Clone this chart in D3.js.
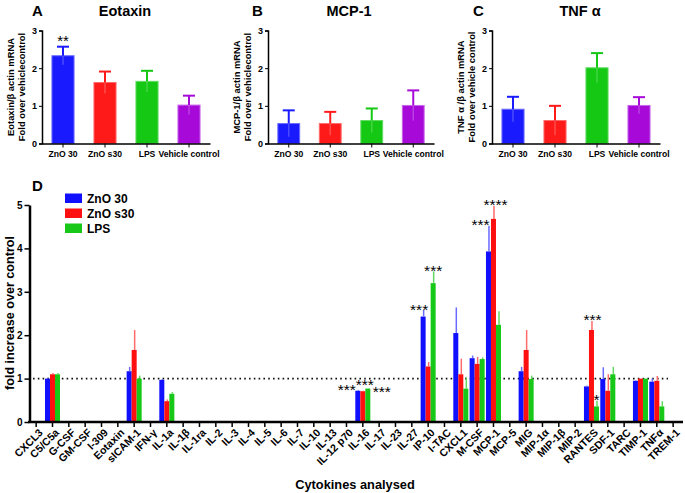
<!DOCTYPE html>
<html><head><meta charset="utf-8">
<script src="https://cdn.jsdelivr.net/npm/d3@7"></script>
<style>
body{margin:0;background:#fff}
svg{display:block;font-family:"Liberation Sans",Arial,sans-serif;font-weight:bold}
</style></head><body>
<svg id="c" width="685" height="493"></svg>
<script>
// ---------- Panels A–C data ----------
const groups = ["ZnO 30", "ZnO s30", "LPS", "Vehicle control"];
const eotaxinMean = [2.33, 1.62, 1.65, 1.02];
const eotaxinErr  = [0.24, 0.29, 0.28, 0.25];
const mcp1Mean    = [0.53, 0.53, 0.61, 1.01];
const mcp1Err     = [0.35, 0.31, 0.32, 0.40];
const tnfMean     = [0.91, 0.61, 2.01, 1.01];
const tnfErr      = [0.33, 0.39, 0.39, 0.22];
const smallTicks  = [0, 1, 2, 3];

// ---------- Panel D data ----------
const cytokines = ["CXCL3","C5/C5a","G-CSF","GM-CSF","I-309","Eotaxin","sICAM-1","IFN-γ","IL-1a","IL-1β",
  "IL-1ra","IL-2","IL-3","IL-4","IL-5","IL-6","IL-7","IL-10","IL-13","IL-12 p70",
  "IL-16","IL-17","IL-23","IL-27","IP-10","I-TAC","CXCL1","M-CSF","MCP-1","MCP-5",
  "MIG","MIP-1α","MIP-1β","MIP-2","RANTES","SDF-1","TARC","TIMP-1","TNFα","TREM-1"];
const series = ["ZnO 30", "ZnO s30", "LPS"];
const N = null;
const zno30Values = [N,1.00,N,N,N,N,1.17,N,0.97,N, N,N,N,N,N,N,N,N,N,N, 0.72,N,N,N,2.43,N,2.05,1.47,3.93,N, 1.17,N,N,N,0.82,0.99,N,0.95,0.93,N];
const zno30Upper  = [N,1.02,N,N,N,N,1.27,N,0.99,N, N,N,N,N,N,N,N,N,N,N, 0.74,N,N,N,2.58,N,2.64,1.53,4.52,N, 1.27,N,N,N,0.84,1.26,N,0.96,1.00,N];
const znoS30Values= [N,1.10,N,N,N,N,1.66,N,0.48,N, N,N,N,N,N,N,N,N,N,N, 0.71,N,N,N,1.28,N,1.10,1.34,4.68,N, 1.66,N,N,N,2.12,0.72,N,1.00,0.95,N];
const znoS30Upper = [N,1.13,N,N,N,N,2.12,N,0.52,N, N,N,N,N,N,N,N,N,N,N, 0.72,N,N,N,1.38,N,1.46,1.50,4.98,N, 2.12,N,N,N,2.33,1.10,N,1.00,1.06,N];
const lpsValues   = [N,1.10,N,N,N,N,1.00,N,0.65,N, N,N,N,N,N,N,N,N,N,N, 0.77,N,N,N,3.20,N,0.77,1.45,2.24,N, 0.99,N,N,N,0.36,1.10,N,1.00,0.36,N];
const lpsUpper    = [N,1.13,N,N,N,N,1.07,N,0.69,N, N,N,N,N,N,N,N,N,N,N, 0.78,N,N,N,3.47,N,1.03,1.49,2.55,N, 1.07,N,N,N,0.49,1.27,N,1.00,0.48,N];
const dTicks = [0, 1, 2, 3, 4, 5];
// significance marks: [category, series index, text]
const sigMarks = [
  ["IL-16",0,"***"],["IL-16",1,"***"],["IL-16",2,"***"],
  ["IP-10",0,"***"],["IP-10",2,"***"],
  ["MCP-1",0,"***"],["MCP-1",1,"****"],
  ["RANTES",1,"***"],["RANTES",2,"*"]
];
const sigNudge  = [-11, 2, 14, -4, 0, -8, 2, 1, 0];
const sigNudgeY = [1, -5, 4, 0, 0, 0, 0, 0, 0];

const svg = d3.select("#c");
svg.append("rect").attr("width",685).attr("height",493).attr("fill","#fff");

// ---------- small panels ----------
const smallColors = ["#1a1aff", "#ff1a1a", "#14c814", "#a70ad8"];
const smallLight  = ["#6b6bff", "#ff6b6b", "#62dc62", "#c866ec"];
const panels = [
  {letter:"A", title:"Eotaxin", mean:eotaxinMean, err:eotaxinErr, x0:42, x1:210, lx:32, tx:125,
   ylab:["Eotaxin/β actin mRNA","Fold over vehiclecontrol"], stars:["**",N,N,N]},
  {letter:"B", title:"MCP-1", mean:mcp1Mean, err:mcp1Err, x0:268, x1:434, lx:252, tx:349,
   ylab:["MCP-1/β actin mRNA","Fold over vehiclecontrol"], stars:[N,N,N,N]},
  {letter:"C", title:"TNF α", mean:tnfMean, err:tnfErr, x0:492, x1:660, lx:473, tx:580,
   ylab:["TNF α /β actin mRNA","Fold over vehicle control"], stars:[N,N,N,N]}
];
panels.forEach(p => {
  const g = svg.append("g");
  const x = d3.scaleBand().domain(groups).range([p.x0, p.x1]).paddingInner(0.45).paddingOuter(0.225);
  const y = d3.scaleLinear().domain([0,3]).range([143.5, 30.5]);
  g.append("text").attr("x",p.lx).attr("y",15.5).attr("font-size",15).text(p.letter);
  g.append("text").attr("x",p.tx).attr("y",16).attr("font-size",14.5).attr("text-anchor","middle").text(p.title);
  groups.forEach((c,i) => {
    const cx = x(c) + x.bandwidth()/2;
    g.append("rect").attr("x",x(c)+0.5).attr("y",y(p.mean[i])).attr("width",x.bandwidth()-1)
      .attr("height",y(0)-y(p.mean[i])).attr("fill",smallColors[i]).attr("stroke",smallLight[i]).attr("stroke-width",1);
    g.append("line").attr("x1",cx).attr("x2",cx).attr("y1",y(p.mean[i]-p.err[i])).attr("y2",y(p.mean[i]))
      .attr("stroke",smallLight[i]).attr("stroke-width",1.5).attr("opacity",0.6);
    g.append("line").attr("x1",cx).attr("x2",cx).attr("y1",y(p.mean[i])).attr("y2",y(p.mean[i]+p.err[i]))
      .attr("stroke",smallColors[i]).attr("stroke-width",2);
    g.append("line").attr("x1",cx-6).attr("x2",cx+6).attr("y1",y(p.mean[i]+p.err[i])).attr("y2",y(p.mean[i]+p.err[i]))
      .attr("stroke",smallColors[i]).attr("stroke-width",2);
    if (p.stars[i]) g.append("text").attr("x",cx).attr("y",y(p.mean[i]+p.err[i])-0.5).attr("font-size",15)
      .attr("text-anchor","middle").attr("font-weight","normal").text(p.stars[i]);
  });
  const yAxis = g.append("g").attr("transform",`translate(${p.x0},0)`)
    .call(d3.axisLeft(y).tickValues(smallTicks).tickFormat(d3.format("d")).tickSize(3).tickPadding(2));
  yAxis.select(".domain").attr("stroke-width",1.5);
  yAxis.selectAll("text").attr("font-size",9).attr("font-family","inherit");
  const xAxis = g.append("g").attr("transform",`translate(0,${y(0)})`)
    .call(d3.axisBottom(x).tickSize(4).tickPadding(3).tickSizeOuter(0));
  xAxis.select(".domain").attr("stroke-width",1.5);
  xAxis.selectAll("text").attr("font-size",8.6).attr("font-family","inherit");
  const yl = g.append("text").attr("transform",`translate(${p.x0-28},87) rotate(-90)`)
    .attr("text-anchor","middle").attr("font-size",9.4);
  yl.append("tspan").attr("x",0).attr("dy",0).text(p.ylab[0]);
  yl.append("tspan").attr("x",0).attr("dy",11).text(p.ylab[1]);
});

// ---------- Panel D ----------
const dColors = ["#1010ff", "#ff1010", "#18c818"];
const dLight  = ["#6a6aff", "#ff6a6a", "#62d862"];
const dVals = [zno30Values, znoS30Values, lpsValues];
const dUp   = [zno30Upper, znoS30Upper, lpsUpper];
const gd = svg.append("g");
const xd = d3.scaleBand().domain(cytokines).range([28, 681.3]).paddingInner(0.08).paddingOuter(0.04);
const xs = d3.scaleBand().domain(series).range([0, xd.bandwidth()]);
const yd = d3.scaleLinear().domain([0,5]).range([422, 205]);

gd.append("line").attr("x1",33).attr("x2",668).attr("y1",yd(1)).attr("y2",yd(1))
  .attr("stroke","#111").attr("stroke-width",1.8).attr("stroke-dasharray","1.6,3.2");

cytokines.forEach((c,ci) => {
  series.forEach((s,si) => {
    const v = dVals[si][ci];
    if (v == null) return;
    const bx = xd(c) + xs(s);
    gd.append("rect").attr("x",bx).attr("y",yd(v)).attr("width",xs.bandwidth())
      .attr("height",yd(0)-yd(v)).attr("fill",dColors[si]);
    const u = dUp[si][ci];
    gd.append("line").attr("x1",bx+xs.bandwidth()*0.6).attr("x2",bx+xs.bandwidth()*0.6)
      .attr("y1",yd(v)).attr("y2",yd(u)).attr("stroke",dLight[si]).attr("stroke-width",1.5);
  });
});
sigMarks.forEach((m,k) => {
  const [c,si,t] = m;
  const cx = xd(c) + xs(series[si]) + xs.bandwidth()/2 + sigNudge[k];
  const top = yd(dUp[si][cytokines.indexOf(c)]);
  gd.append("text").attr("x",cx).attr("y",top + 4.5 + sigNudgeY[k]).attr("text-anchor","middle")
    .attr("font-size",15.5).attr("font-weight","normal").text(t);
});

const yAxD = gd.append("g").attr("transform","translate(29.5,0)")
  .call(d3.axisLeft(yd).tickValues(dTicks).tickFormat(d3.format("d")).tickSize(5).tickPadding(2).tickSizeOuter(0));
yAxD.select(".domain").attr("stroke-width",2.5);
yAxD.selectAll(".tick line").attr("stroke-width",1.5);
yAxD.selectAll("text").attr("font-size",10).attr("font-family","inherit");

const xAxD = gd.append("g").attr("transform",`translate(0,${yd(0)})`)
  .call(d3.axisBottom(xd).tickSize(5).tickSizeOuter(0));
xAxD.select(".domain").attr("stroke-width",2.5).attr("d","M28,0H683");
xAxD.selectAll(".tick line").attr("stroke-width",1.5);
xAxD.selectAll("text").attr("font-size",10.6).attr("font-family","inherit")
  .attr("text-anchor","end").attr("transform","translate(2,6) rotate(-45)").attr("dy","0.7em").attr("y",0).attr("x",0);

gd.append("text").attr("x",32).attr("y",191).attr("font-size",15).text("D");
gd.append("text").attr("transform","translate(14,313) rotate(-90)").attr("text-anchor","middle")
  .attr("font-size",12.6).text("fold increase over control");
gd.append("text").attr("x",355).attr("y",489).attr("text-anchor","middle").attr("font-size",12.8).text("Cytokines analysed");

const lg = gd.append("g");
series.forEach((s,i) => {
  lg.append("rect").attr("x",65).attr("y",193.5 + i*15).attr("width",17).attr("height",9.5).attr("fill",dColors[i]);
  lg.append("text").attr("x",87).attr("y",202.5 + i*15).attr("font-size",12).text(s);
});
</script>
</body></html>
